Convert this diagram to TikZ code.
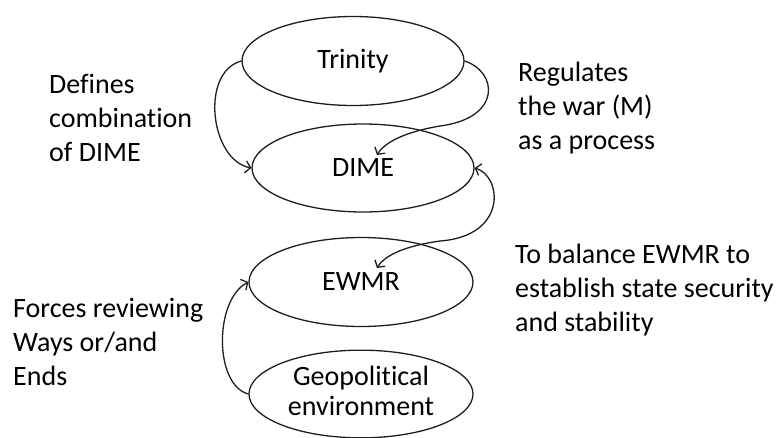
\documentclass[tikz,border=0pt]{standalone}
\usepackage{fontspec}
\setmainfont{Carlito}[Ligatures=NoCommon]
\usetikzlibrary{shapes.geometric,arrows.meta}
\definecolor{linec}{RGB}{30,30,30}
\begin{document}
\begin{tikzpicture}[x=1pt,y=-1pt,
  ell/.style={draw=linec, line width=1.3pt, ellipse, inner sep=0pt, font=\fontsize{28}{32}\selectfont, align=center},
  lbl/.style={anchor=base west, inner sep=0pt, font=\fontsize{28}{34}\selectfont},
  conn/.style={draw=linec, line width=1.3pt, -{Straight Barb[length=5pt,width=12pt]}},
  conn2/.style={draw=linec, line width=1.3pt, {Straight Barb[length=5pt,width=12pt]}-{Straight Barb[length=5pt,width=12pt]}},
]
\useasboundingbox (0,0) rectangle (777,437);
\node[ell, minimum width=222pt, minimum height=89pt] (T) at (353,61) {Trinity};
\node[ell, minimum width=222pt, minimum height=88pt] (D) at (363,168) {DIME};
\node[ell, minimum width=224pt, minimum height=89pt] (E) at (361,282) {EWMR};
\node[ell, minimum width=224pt, minimum height=82pt] (G) at (361,394) {\raisebox{-3pt}{\begin{tabular}{@{}c@{}}Geopolitical\\[-2pt]environment\end{tabular}}};
\coordinate (Din) at (377,155);
\coordinate (Ein) at (377,268);
\draw[conn] (T.west) .. controls (200,72) and (210,160) .. (D.west);
\draw[conn] (T.east) .. controls (498,72) and (502,118) .. (440,126) .. controls (405,132) and (385,142) .. (Din);
\draw[conn2] (D.east) .. controls (502,176) and (508,236) .. (440,241) .. controls (405,246) and (385,255) .. (Ein);
\draw[conn] (G.west) .. controls (214,385) and (214,300) .. (E.west);
\node[lbl] (l1) at (49,93) {\begin{tabular}[t]{@{}l@{}}Defines\\combination\\of DIME\end{tabular}};
\node[lbl] (l2) at (518,81) {\begin{tabular}[t]{@{}l@{}}Regulates\\the war (M)\\as a process\end{tabular}};
\node[lbl] (l3) at (515,263) {\begin{tabular}[t]{@{}l@{}}To balance EWMR to\\establish state security\\and stability\end{tabular}};
\node[lbl] (l4) at (13,317) {\begin{tabular}[t]{@{}l@{}}Forces reviewing\\Ways or/and\\Ends\end{tabular}};
\end{tikzpicture}
\end{document}
